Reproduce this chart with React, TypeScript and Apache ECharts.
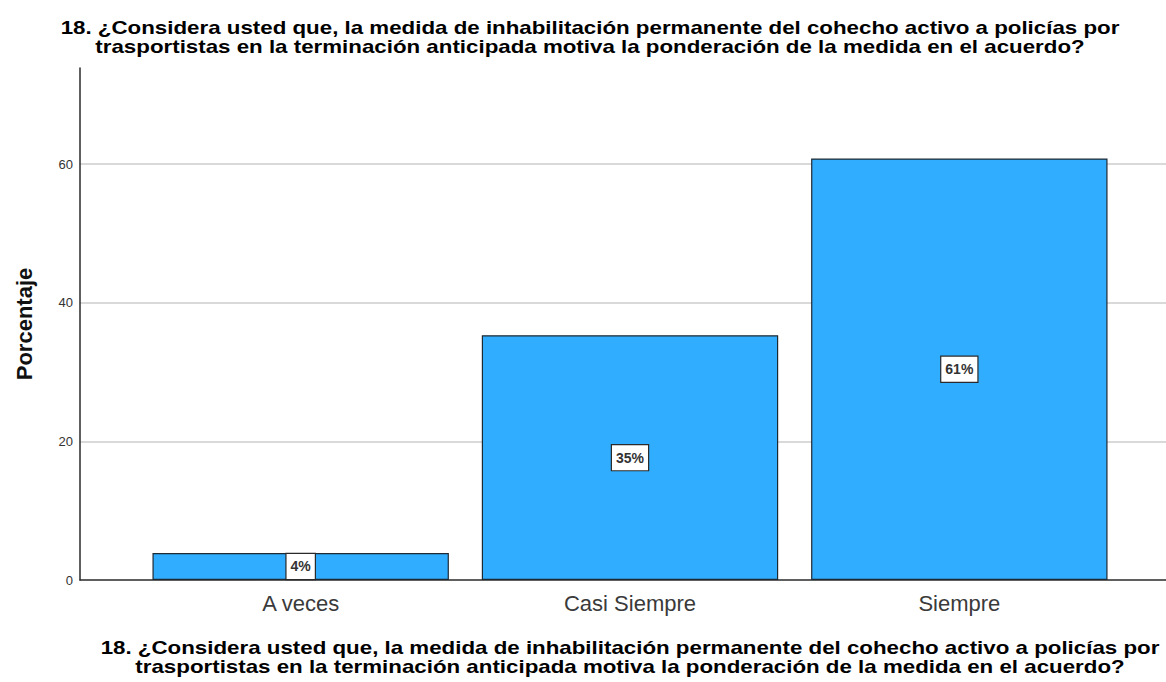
import React, { useEffect, useRef } from "react";
import * as echarts from "echarts";

const categories = ["A veces", "Casi Siempre", "Siempre"];
const percentages = [3.9, 35.3, 60.8];
const yTicks = { min: 0, max: 73.85, interval: 20 };
const titleLines = [
  "18. ¿Considera usted que, la medida de inhabilitación permanente del cohecho activo a policías por",
  "trasportistas en la terminación anticipada motiva la ponderación de la medida en el acuerdo?",
];
const yAxisTitle = "Porcentaje";

const FONT = "'Liberation Sans', Arial, sans-serif";

export default function App() {
  const ref = useRef<HTMLDivElement>(null);
  useEffect(() => {
    if (!ref.current) return;
    const chart = echarts.init(ref.current, undefined, { renderer: "svg" });
    const titleText = titleLines.join("\n");
    const titleStyle = {
      text: titleText,
      textAlign: "center",
      fontFamily: FONT,
      fontWeight: "bold",
      fontSize: 18,
      lineHeight: 19.5,
      fill: "#000",
    };
    chart.setOption({
      animation: false,
      backgroundColor: "#ffffff",
      textStyle: { fontFamily: FONT },
      grid: [
        { left: 80, right: 0, top: 68, bottom: 102, containLabel: false },
        { left: 136, right: 42, top: 68, bottom: 102, containLabel: false },
      ],
      xAxis: [
        {
          gridIndex: 0,
          type: "value",
          min: 0,
          max: 1,
          axisLine: { show: true, onZero: false, lineStyle: { color: "#2a2a2a", width: 1.5 } },
          axisTick: { show: false },
          axisLabel: { show: false },
          splitLine: { show: false },
        },
        {
          gridIndex: 1,
          type: "category",
          data: categories,
          axisLine: { show: false },
          axisTick: { show: false },
          axisLabel: {
            show: true,
            color: "#3a3a3a",
            fontSize: 22,
            fontFamily: FONT,
            margin: 12,
          },
          splitLine: { show: false },
        },
      ],
      yAxis: [
        {
          gridIndex: 0,
          type: "value",
          min: yTicks.min,
          max: yTicks.max,
          interval: yTicks.interval,
          name: yAxisTitle,
          nameLocation: "middle",
          nameGap: 45,
          nameRotate: 90,
          nameTextStyle: { fontSize: 22, fontWeight: "bold", color: "#111", fontFamily: FONT },
          axisLine: { show: true, lineStyle: { color: "#2a2a2a", width: 1.5 } },
          axisTick: { show: false },
          axisLabel: {
            show: true,
            color: "#333",
            fontSize: 13,
            fontFamily: FONT,
            margin: 7,
            showMaxLabel: false,
          },
          splitLine: {
            show: true,
            showMinLine: false,
            showMaxLine: false,
            lineStyle: { color: "#cccccc", width: 1.5 },
          },
        },
        {
          gridIndex: 1,
          type: "value",
          min: yTicks.min,
          max: yTicks.max,
          show: false,
          splitLine: { show: false },
        },
      ],
      graphic: [
        {
          type: "text",
          x: 590,
          y: 18,
          scaleX: 1.24,
          style: titleStyle,
        },
        {
          type: "text",
          x: 630,
          y: 638,
          scaleX: 1.24,
          style: titleStyle,
        },
      ],
      series: [
        {
          type: "bar",
          xAxisIndex: 1,
          yAxisIndex: 1,
          data: percentages,
          barWidth: "90%",
          itemStyle: {
            color: "#31adff",
            borderColor: "#1e2a33",
            borderWidth: 1.2,
          },
          label: {
            show: true,
            position: "inside",
            formatter: (p: any) => Math.round(p.value) + "%",
            backgroundColor: "#ffffff",
            borderColor: "#2a2a2a",
            borderWidth: 1.2,
            padding: [6, 4, 5, 4],
            color: "#333",
            fontWeight: "bold",
            fontSize: 14,
            fontFamily: FONT,
          },
        },
      ],
    });
    return () => chart.dispose();
  }, []);
  return <div ref={ref} style={{ width: 1166, height: 682, position: "absolute", left: 0, top: 0 }} />;
}
